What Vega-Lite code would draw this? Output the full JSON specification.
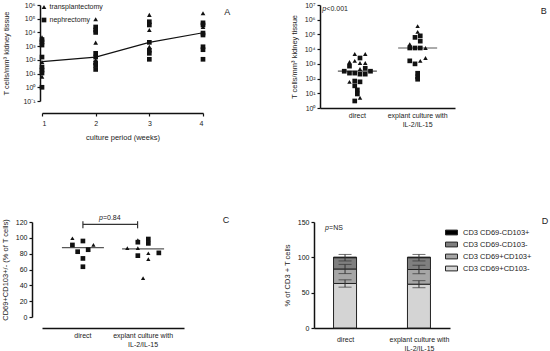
{
  "$schema": "https://vega.github.io/schema/vega-lite/v6.json",
  "autosize": {"type": "pad"},
  "padding": {"left": 1, "top": 1, "right": 0, "bottom": 0},
  "config": {
    "font": "Liberation Sans",
    "view": {"stroke": null},
    "axis": {"domainColor": "#111", "domainWidth": 1.5, "tickColor": "#111", "tickWidth": 1.2, "tickSize": 3, "labelFontSize": 7, "labelColor": "#222", "titleFontSize": 7.5, "titleFontWeight": "normal", "titleColor": "#222", "grid": false, "labelPadding": 2, "labelOverlap": false, "zindex": 1},
    "legend": {"labelColor": "#222", "padding": 0}
  },
  "datasets": {
    "aPts": [
      {"week": 1, "source": "transplantectomy", "cells": 4400},
      {"week": 1, "source": "nephrectomy", "cells": 3000},
      {"week": 1, "source": "nephrectomy", "cells": 2000},
      {"week": 1, "source": "nephrectomy", "cells": 1200},
      {"week": 1, "source": "nephrectomy", "cells": 160},
      {"week": 1, "source": "transplantectomy", "cells": 70},
      {"week": 1, "source": "nephrectomy", "cells": 30},
      {"week": 1, "source": "nephrectomy", "cells": 18},
      {"week": 1, "source": "nephrectomy", "cells": 11},
      {"week": 1, "source": "transplantectomy", "cells": 6},
      {"week": 1, "source": "nephrectomy", "cells": 1},
      {"week": 2, "source": "transplantectomy", "cells": 90000},
      {"week": 2, "source": "nephrectomy", "cells": 25000},
      {"week": 2, "source": "nephrectomy", "cells": 15000},
      {"week": 2, "source": "nephrectomy", "cells": 10000},
      {"week": 2, "source": "transplantectomy", "cells": 1800},
      {"week": 2, "source": "nephrectomy", "cells": 300},
      {"week": 2, "source": "nephrectomy", "cells": 160},
      {"week": 2, "source": "transplantectomy", "cells": 100},
      {"week": 2, "source": "nephrectomy", "cells": 60},
      {"week": 2, "source": "nephrectomy", "cells": 40},
      {"week": 2, "source": "nephrectomy", "cells": 20},
      {"week": 3, "source": "transplantectomy", "cells": 190000},
      {"week": 3, "source": "nephrectomy", "cells": 60000},
      {"week": 3, "source": "nephrectomy", "cells": 35000},
      {"week": 3, "source": "transplantectomy", "cells": 15000},
      {"week": 3, "source": "nephrectomy", "cells": 1900},
      {"week": 3, "source": "transplantectomy", "cells": 900},
      {"week": 3, "source": "nephrectomy", "cells": 500},
      {"week": 3, "source": "nephrectomy", "cells": 300},
      {"week": 3, "source": "nephrectomy", "cells": 110},
      {"week": 4, "source": "transplantectomy", "cells": 250000},
      {"week": 4, "source": "nephrectomy", "cells": 50000},
      {"week": 4, "source": "nephrectomy", "cells": 35000},
      {"week": 4, "source": "transplantectomy", "cells": 25000},
      {"week": 4, "source": "nephrectomy", "cells": 9000},
      {"week": 4, "source": "nephrectomy", "cells": 6500},
      {"week": 4, "source": "nephrectomy", "cells": 900},
      {"week": 4, "source": "nephrectomy", "cells": 550},
      {"week": 4, "source": "nephrectomy", "cells": 110}
    ],
    "aMed": [
      {"week": 1, "cells": 75},
      {"week": 2, "cells": 160},
      {"week": 3, "cells": 1900},
      {"week": 4, "cells": 9500}
    ],
    "aNote": [{"week": 4.45, "cells": 300000, "txt": "A"}],
    "bPts": [
      {"group": "direct", "source": "transplantectomy", "cells": 4700, "slot": -0.5},
      {"group": "direct", "source": "transplantectomy", "cells": 4700, "slot": 1.5},
      {"group": "direct", "source": "transplantectomy", "cells": 1350, "slot": -1.5},
      {"group": "direct", "source": "transplantectomy", "cells": 1600, "slot": -0.5},
      {"group": "direct", "source": "transplantectomy", "cells": 1150, "slot": 0.5},
      {"group": "direct", "source": "transplantectomy", "cells": 1150, "slot": 1.5},
      {"group": "direct", "source": "transplantectomy", "cells": 450, "slot": 0.5},
      {"group": "direct", "source": "transplantectomy", "cells": 60, "slot": -1.5},
      {"group": "direct", "source": "transplantectomy", "cells": 5, "slot": 0.5},
      {"group": "direct", "source": "nephrectomy", "cells": 2500, "slot": 0.5},
      {"group": "direct", "source": "nephrectomy", "cells": 700, "slot": -1.5},
      {"group": "direct", "source": "nephrectomy", "cells": 500, "slot": 1.5},
      {"group": "direct", "source": "nephrectomy", "cells": 316, "slot": -2.5},
      {"group": "direct", "source": "nephrectomy", "cells": 235, "slot": -1.5},
      {"group": "direct", "source": "nephrectomy", "cells": 235, "slot": -0.5},
      {"group": "direct", "source": "nephrectomy", "cells": 200, "slot": 0.5},
      {"group": "direct", "source": "nephrectomy", "cells": 200, "slot": 1.5},
      {"group": "direct", "source": "nephrectomy", "cells": 316, "slot": 2.5},
      {"group": "direct", "source": "nephrectomy", "cells": 68, "slot": -0.5},
      {"group": "direct", "source": "nephrectomy", "cells": 60, "slot": 0.5},
      {"group": "direct", "source": "nephrectomy", "cells": 32, "slot": -0.5},
      {"group": "direct", "source": "nephrectomy", "cells": 17, "slot": 0},
      {"group": "direct", "source": "nephrectomy", "cells": 9, "slot": 0},
      {"group": "direct", "source": "nephrectomy", "cells": 3, "slot": -0.5},
      {"group": "explant culture with IL-2/IL-15", "source": "transplantectomy", "cells": 370000, "slot": 0},
      {"group": "explant culture with IL-2/IL-15", "source": "transplantectomy", "cells": 150000, "slot": 0},
      {"group": "explant culture with IL-2/IL-15", "source": "transplantectomy", "cells": 22000, "slot": -1.5},
      {"group": "explant culture with IL-2/IL-15", "source": "transplantectomy", "cells": 12000, "slot": 1.5},
      {"group": "explant culture with IL-2/IL-15", "source": "transplantectomy", "cells": 1600, "slot": 0.5},
      {"group": "explant culture with IL-2/IL-15", "source": "transplantectomy", "cells": 2500, "slot": 1.5},
      {"group": "explant culture with IL-2/IL-15", "source": "nephrectomy", "cells": 63000, "slot": -0.5},
      {"group": "explant culture with IL-2/IL-15", "source": "nephrectomy", "cells": 80000, "slot": 0.5},
      {"group": "explant culture with IL-2/IL-15", "source": "nephrectomy", "cells": 35000, "slot": 0.5},
      {"group": "explant culture with IL-2/IL-15", "source": "nephrectomy", "cells": 12000, "slot": -1.5},
      {"group": "explant culture with IL-2/IL-15", "source": "nephrectomy", "cells": 12000, "slot": -0.5},
      {"group": "explant culture with IL-2/IL-15", "source": "nephrectomy", "cells": 12000, "slot": 0.5},
      {"group": "explant culture with IL-2/IL-15", "source": "nephrectomy", "cells": 1600, "slot": -1.5},
      {"group": "explant culture with IL-2/IL-15", "source": "nephrectomy", "cells": 1000, "slot": -0.5},
      {"group": "explant culture with IL-2/IL-15", "source": "nephrectomy", "cells": 230, "slot": 0},
      {"group": "explant culture with IL-2/IL-15", "source": "nephrectomy", "cells": 130, "slot": 0},
      {"group": "explant culture with IL-2/IL-15", "source": "nephrectomy", "cells": 90, "slot": 0}
    ],
    "bMed": [
      {"group": "direct", "cells": 316},
      {"group": "explant culture with IL-2/IL-15", "cells": 12000}
    ],
    "bNoteP": [{"group": "direct", "cells": 5300000, "txt": "p"}],
    "bNoteV": [{"group": "direct", "cells": 5300000, "txt": "<0.001"}],
    "bNoteL": [{"group": "explant culture with IL-2/IL-15", "cells": 3900000, "txt": "B"}],
    "cPts": [
      {"group": "direct", "source": "transplantectomy", "pct": 99.5, "slot": -2},
      {"group": "direct", "source": "nephrectomy", "pct": 91, "slot": -2},
      {"group": "direct", "source": "nephrectomy", "pct": 96, "slot": 0},
      {"group": "direct", "source": "transplantectomy", "pct": 91, "slot": 2},
      {"group": "direct", "source": "nephrectomy", "pct": 82.5, "slot": -1},
      {"group": "direct", "source": "nephrectomy", "pct": 85, "slot": 1},
      {"group": "direct", "source": "nephrectomy", "pct": 74, "slot": 0},
      {"group": "direct", "source": "nephrectomy", "pct": 63.5, "slot": 0},
      {"group": "explant culture with IL-2/IL-15", "source": "transplantectomy", "pct": 87, "slot": -3},
      {"group": "explant culture with IL-2/IL-15", "source": "transplantectomy", "pct": 97, "slot": -1},
      {"group": "explant culture with IL-2/IL-15", "source": "nephrectomy", "pct": 94.5, "slot": -1},
      {"group": "explant culture with IL-2/IL-15", "source": "transplantectomy", "pct": 87, "slot": -1},
      {"group": "explant culture with IL-2/IL-15", "source": "nephrectomy", "pct": 77.5, "slot": -1},
      {"group": "explant culture with IL-2/IL-15", "source": "nephrectomy", "pct": 98.5, "slot": 1},
      {"group": "explant culture with IL-2/IL-15", "source": "nephrectomy", "pct": 93, "slot": 1},
      {"group": "explant culture with IL-2/IL-15", "source": "transplantectomy", "pct": 80.5, "slot": 1},
      {"group": "explant culture with IL-2/IL-15", "source": "transplantectomy", "pct": 73, "slot": 1},
      {"group": "explant culture with IL-2/IL-15", "source": "nephrectomy", "pct": 81, "slot": 3},
      {"group": "explant culture with IL-2/IL-15", "source": "transplantectomy", "pct": 49, "slot": 0}
    ],
    "cMed": [
      {"group": "direct", "pct": 87.7},
      {"group": "explant culture with IL-2/IL-15", "pct": 86}
    ],
    "cBracket": [{"group": "direct", "to": "explant culture with IL-2/IL-15", "pct": 117}],
    "cCapL": [{"group": "direct", "pct": 112, "pctTop": 121}],
    "cCapR": [{"group": "explant culture with IL-2/IL-15", "pct": 112, "pctTop": 121}],
    "cNoteP": [{"group": "direct", "pct": 125.5, "txt": "p"}],
    "cNoteV": [{"group": "direct", "pct": 125.5, "txt": "=0.84"}],
    "cNoteL": [{"group": "explant culture with IL-2/IL-15", "pct": 123, "txt": "C"}],
    "dBars": [
      {"group": "direct", "subset": "CD3 CD69+CD103-", "order": 1, "mean": 63, "sd": 5.2},
      {"group": "direct", "subset": "CD3 CD69+CD103+", "order": 2, "mean": 20.5, "sd": 6.5},
      {"group": "direct", "subset": "CD3 CD69-CD103-", "order": 3, "mean": 16, "sd": 4.6},
      {"group": "direct", "subset": "CD3 CD69-CD103+", "order": 4, "mean": 0.8, "sd": 0},
      {"group": "explant culture with IL-2/IL-15", "subset": "CD3 CD69+CD103-", "order": 1, "mean": 62, "sd": 5},
      {"group": "explant culture with IL-2/IL-15", "subset": "CD3 CD69+CD103+", "order": 2, "mean": 20.8, "sd": 6},
      {"group": "explant culture with IL-2/IL-15", "subset": "CD3 CD69-CD103-", "order": 3, "mean": 16.7, "sd": 4.6},
      {"group": "explant culture with IL-2/IL-15", "subset": "CD3 CD69-CD103+", "order": 4, "mean": 0.8, "sd": 0}
    ],
    "dNoteP": [{"group": "direct", "y0": 141, "txt": "p"}],
    "dNoteV": [{"group": "direct", "y0": 141, "txt": "=NS"}],
    "dNoteL": [{"group": "explant culture with IL-2/IL-15", "y0": 152, "txt": "D"}]
  },
  "bounds": "flush",
  "spacing": 217,
  "resolve": {"scale": {"shape": "independent", "color": "independent"}, "legend": {"shape": "independent", "color": "independent"}},
  "vconcat": [
    {
      "bounds": "flush",
      "spacing": 117,
      "resolve": {"scale": {"shape": "independent", "color": "independent"}, "legend": {"shape": "independent", "color": "independent"}},
      "hconcat": [
        {
          "width": 161,
          "height": 96,
          "layer": [
            {
              "data": {"name": "aMed"},
              "mark": {"type": "line", "color": "#111", "strokeWidth": 1.2},
              "encoding": {
                "x": {"field": "week", "type": "quantitative", "scale": {"domain": [1, 4]}, "axis": {"values": [1, 2, 3, 4], "format": "d", "offset": 12, "title": "culture period (weeks)", "titlePadding": 7, "labelPadding": 3}},
                "y": {"field": "cells", "type": "quantitative", "scale": {"type": "log", "domain": [0.1, 1000000]}, "axis": {"values": [0.1, 1, 10, 100, 1000, 10000, 100000, 1000000], "labelExpr": "['10⁻¹','10⁰','10¹','10²','10³','10⁴','10⁵','10⁶','10⁷'][round(log(datum.value)/LN10)+1]", "offset": 2, "title": "T cells/mm³ kidney tissue", "titlePadding": 12}}
              }
            },
            {
              "data": {"name": "aPts"},
              "mark": {"type": "point", "filled": true, "color": "#111", "opacity": 1, "size": 22},
              "encoding": {
                "x": {"field": "week", "type": "quantitative"},
                "y": {"field": "cells", "type": "quantitative"},
                "shape": {"field": "source", "type": "nominal", "scale": {"domain": ["transplantectomy", "nephrectomy"], "range": ["triangle-up", "square"]}, "legend": {"title": null, "orient": "none", "legendX": -1.5, "legendY": -1.5, "labelFontSize": 7, "symbolSize": 22, "rowPadding": 2, "labelOffset": 2, "symbolFillColor": "#111", "symbolStrokeColor": "#111", "symbolOpacity": 1}}
              }
            },
            {
              "data": {"name": "aNote"},
              "mark": {"type": "text", "fontSize": 9, "color": "#222"},
              "encoding": {"x": {"field": "week", "type": "quantitative"}, "y": {"field": "cells", "type": "quantitative"}, "text": {"field": "txt"}}
            }
          ]
        },
        {
          "width": 135,
          "height": 103,
          "layer": [
            {
              "data": {"name": "bPts"},
              "transform": [{"filter": "datum.source == 'nephrectomy'"}],
              "mark": {"type": "point", "shape": "square", "filled": true, "color": "#111", "opacity": 1, "size": 22},
              "encoding": {
                "x": {"field": "group", "type": "nominal", "scale": {"type": "band", "domain": ["direct", "explant culture with IL-2/IL-15"], "paddingInner": 1, "paddingOuter": 0.62}, "axis": {"title": null, "ticks": false, "labelAngle": 0, "labelPadding": 3.5, "labelLineHeight": 9, "labelExpr": "datum.value == 'direct' ? 'direct' : ['explant culture with', 'IL-2/IL-15']"}},
                "xOffset": {"field": "slot", "type": "quantitative", "scale": {"domain": [-3, 3], "range": [-21, 21]}},
                "y": {"field": "cells", "type": "quantitative", "scale": {"type": "log", "domain": [1, 10000000]}, "axis": {"values": [1, 10, 100, 1000, 10000, 100000, 1000000, 10000000], "labelExpr": "['10⁻¹','10⁰','10¹','10²','10³','10⁴','10⁵','10⁶','10⁷'][round(log(datum.value)/LN10)+1]", "title": "T cells/mm³ kidney tissue", "titlePadding": 6}}
              }
            },
            {
              "data": {"name": "bPts"},
              "transform": [{"filter": "datum.source == 'transplantectomy'"}],
              "mark": {"type": "point", "shape": "triangle-up", "filled": true, "color": "#111", "opacity": 1, "size": 20},
              "encoding": {
                "x": {"field": "group", "type": "nominal"},
                "xOffset": {"field": "slot", "type": "quantitative"},
                "y": {"field": "cells", "type": "quantitative"}
              }
            },
            {
              "data": {"name": "bMed"},
              "mark": {"type": "tick", "orient": "horizontal", "size": 39, "thickness": 1.2, "color": "#111"},
              "encoding": {"x": {"field": "group", "type": "nominal"}, "y": {"field": "cells", "type": "quantitative"}}
            },
            {
              "data": {"name": "bNoteP"},
              "mark": {"type": "text", "fontSize": 7, "fontStyle": "italic", "align": "left", "baseline": "middle", "dx": -35, "color": "#222"},
              "encoding": {"x": {"field": "group", "type": "nominal"}, "y": {"field": "cells", "type": "quantitative"}, "text": {"field": "txt"}}
            },
            {
              "data": {"name": "bNoteV"},
              "mark": {"type": "text", "fontSize": 7, "align": "left", "baseline": "middle", "dx": -31, "color": "#222"},
              "encoding": {"x": {"field": "group", "type": "nominal"}, "y": {"field": "cells", "type": "quantitative"}, "text": {"field": "txt"}}
            },
            {
              "data": {"name": "bNoteL"},
              "mark": {"type": "text", "fontSize": 9, "dx": 126, "color": "#222"},
              "encoding": {"x": {"field": "group", "type": "nominal"}, "y": {"field": "cells", "type": "quantitative"}, "text": {"field": "txt"}}
            }
          ]
        }
      ]
    },
    {
      "bounds": "flush",
      "spacing": 130,
      "resolve": {"scale": {"shape": "independent", "color": "independent"}, "legend": {"shape": "independent", "color": "independent"}},
      "hconcat": [
        {
          "width": 142,
          "height": 95,
          "layer": [
            {
              "data": {"name": "cPts"},
              "transform": [{"filter": "datum.source == 'nephrectomy'"}],
              "mark": {"type": "point", "shape": "square", "filled": true, "color": "#111", "opacity": 1, "size": 22},
              "encoding": {
                "x": {"field": "group", "type": "nominal", "scale": {"type": "band", "domain": ["direct", "explant culture with IL-2/IL-15"], "paddingInner": 1, "paddingOuter": 0.68}, "axis": {"title": null, "ticks": false, "labelAngle": 0, "offset": 11, "labelPadding": 3, "labelLineHeight": 9, "labelExpr": "datum.value == 'direct' ? 'direct' : ['explant culture with', 'IL-2/IL-15']"}},
                "xOffset": {"field": "slot", "type": "quantitative", "scale": {"domain": [-4, 4], "range": [-16.8, 16.8]}},
                "y": {"field": "pct", "type": "quantitative", "scale": {"domain": [0, 120], "nice": false}, "axis": {"values": [0, 20, 40, 60, 80, 100, 120], "tickCount": 7, "labelExpr": "'' + datum.value", "labelOverlap": false, "labelBound": false, "labelColor": "#111", "offset": 10, "title": "CD69+CD103+/-  (% of T cells)", "titlePadding": 6}}
              }
            },
            {
              "data": {"name": "cPts"},
              "transform": [{"filter": "datum.source == 'transplantectomy'"}],
              "mark": {"type": "point", "shape": "triangle-up", "filled": true, "color": "#111", "opacity": 1, "size": 18},
              "encoding": {
                "x": {"field": "group", "type": "nominal"},
                "xOffset": {"field": "slot", "type": "quantitative"},
                "y": {"field": "pct", "type": "quantitative"}
              }
            },
            {
              "data": {"name": "cMed"},
              "mark": {"type": "tick", "orient": "horizontal", "size": 42, "thickness": 1.2, "color": "#111"},
              "encoding": {"x": {"field": "group", "type": "nominal"}, "y": {"field": "pct", "type": "quantitative"}}
            },
            {
              "data": {"name": "cBracket"},
              "mark": {"type": "rule", "color": "#333", "strokeWidth": 1.2, "x2Offset": -5.5},
              "encoding": {"x": {"field": "group", "type": "nominal"}, "x2": {"field": "to"}, "y": {"field": "pct", "type": "quantitative"}}
            },
            {
              "data": {"name": "cCapL"},
              "mark": {"type": "rule", "color": "#333", "strokeWidth": 1.2},
              "encoding": {"x": {"field": "group", "type": "nominal"}, "y": {"field": "pct", "type": "quantitative"}, "y2": {"field": "pctTop"}}
            },
            {
              "data": {"name": "cCapR"},
              "mark": {"type": "rule", "color": "#333", "strokeWidth": 1.2, "xOffset": -5.5},
              "encoding": {"x": {"field": "group", "type": "nominal"}, "y": {"field": "pct", "type": "quantitative"}, "y2": {"field": "pctTop"}}
            },
            {
              "data": {"name": "cNoteP"},
              "mark": {"type": "text", "fontSize": 7, "fontStyle": "italic", "align": "left", "baseline": "middle", "dx": 16, "color": "#222"},
              "encoding": {"x": {"field": "group", "type": "nominal"}, "y": {"field": "pct", "type": "quantitative"}, "text": {"field": "txt"}}
            },
            {
              "data": {"name": "cNoteV"},
              "mark": {"type": "text", "fontSize": 7, "align": "left", "baseline": "middle", "dx": 20, "color": "#222"},
              "encoding": {"x": {"field": "group", "type": "nominal"}, "y": {"field": "pct", "type": "quantitative"}, "text": {"field": "txt"}}
            },
            {
              "data": {"name": "cNoteL"},
              "mark": {"type": "text", "fontSize": 9, "dx": 83, "color": "#222"},
              "encoding": {"x": {"field": "group", "type": "nominal"}, "y": {"field": "pct", "type": "quantitative"}, "text": {"field": "txt"}}
            }
          ]
        },
        {
          "width": 136,
          "height": 106,
          "layer": [
            {
              "data": {"name": "dBars"},
              "transform": [
                {"stack": "mean", "groupby": ["group"], "sort": [{"field": "order", "order": "ascending"}], "as": ["y0", "y1"]}
              ],
              "mark": {"type": "bar", "width": 23, "stroke": "#222", "strokeWidth": 1},
              "encoding": {
                "x": {"field": "group", "type": "nominal", "scale": {"type": "point", "domain": ["direct", "explant culture with IL-2/IL-15"], "padding": 0.42}, "axis": {"title": null, "ticks": false, "labelAngle": 0, "labelPadding": 7, "labelLineHeight": 9, "labelExpr": "datum.value == 'direct' ? 'direct' : ['explant culture with', 'IL-2/IL-15']"}},
                "y": {"field": "y0", "type": "quantitative", "scale": {"domain": [0, 150], "nice": false}, "axis": {"values": [0, 50, 100, 150], "tickCount": 4, "labelExpr": "'' + datum.value", "labelOverlap": false, "labelBound": false, "labelColor": "#111", "title": "% of CD3 + T cells", "titlePadding": 6}},
                "y2": {"field": "y1"},
                "color": {"field": "subset", "type": "nominal", "scale": {"domain": ["CD3 CD69+CD103-", "CD3 CD69+CD103+", "CD3 CD69-CD103-", "CD3 CD69-CD103+"], "range": ["#d4d4d4", "#a6a6a6", "#7f7f7f", "#000000"]}, "legend": {"title": null, "orient": "none", "legendX": 131, "legendY": 4, "values": ["CD3 CD69-CD103+", "CD3 CD69-CD103-", "CD3 CD69+CD103+", "CD3 CD69+CD103-"], "symbolType": "M-1,-0.4H1V0.4H-1Z", "symbolSize": 144, "labelFontSize": 7.5, "labelOffset": 5, "rowPadding": 1, "symbolStrokeWidth": 1, "symbolStrokeColor": "#222"}}
              }
            },
            {
              "data": {"name": "dBars"},
              "transform": [
                {"stack": "mean", "groupby": ["group"], "sort": [{"field": "order", "order": "ascending"}], "as": ["s0", "s1"]},
                {"filter": "datum.sd > 0"},
                {"calculate": "datum.s1 - datum.sd", "as": "y0"},
                {"calculate": "datum.s1 + datum.sd", "as": "hi"}
              ],
              "layer": [
                {
                  "mark": {"type": "rule", "color": "#333", "strokeWidth": 1},
                  "encoding": {"x": {"field": "group", "type": "nominal"}, "y": {"field": "y0", "type": "quantitative"}, "y2": {"field": "hi"}}
                },
                {
                  "mark": {"type": "tick", "orient": "horizontal", "size": 13, "thickness": 1, "color": "#333"},
                  "encoding": {"x": {"field": "group", "type": "nominal"}, "y": {"field": "y0", "type": "quantitative"}}
                },
                {
                  "mark": {"type": "tick", "orient": "horizontal", "size": 13, "thickness": 1, "color": "#333"},
                  "encoding": {"x": {"field": "group", "type": "nominal"}, "y": {"field": "hi", "type": "quantitative"}}
                }
              ]
            },
            {
              "data": {"name": "dNoteP"},
              "mark": {"type": "text", "fontSize": 7, "fontStyle": "italic", "align": "left", "baseline": "middle", "dx": -20, "color": "#222"},
              "encoding": {"x": {"field": "group", "type": "nominal"}, "y": {"field": "y0", "type": "quantitative"}, "text": {"field": "txt"}}
            },
            {
              "data": {"name": "dNoteV"},
              "mark": {"type": "text", "fontSize": 7, "align": "left", "baseline": "middle", "dx": -16, "color": "#222"},
              "encoding": {"x": {"field": "group", "type": "nominal"}, "y": {"field": "y0", "type": "quantitative"}, "text": {"field": "txt"}}
            },
            {
              "data": {"name": "dNoteL"},
              "mark": {"type": "text", "fontSize": 9, "dx": 126, "color": "#222"},
              "encoding": {"x": {"field": "group", "type": "nominal"}, "y": {"field": "y0", "type": "quantitative"}, "text": {"field": "txt"}}
            }
          ]
        }
      ]
    }
  ]
}
